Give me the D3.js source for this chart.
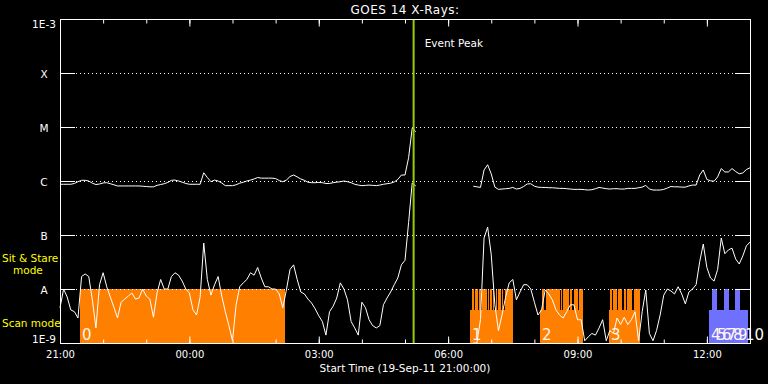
<!DOCTYPE html>
<html>
<head>
<meta charset="utf-8">
<script src="https://cdn.jsdelivr.net/npm/d3@7"></script>
<style>
  body { margin: 0; background: #000; }
  svg { display: block; background: #000; }
  text { font-family: "DejaVu Sans", sans-serif; fill: #fff; }
</style>
</head>
<body>
<svg id="chart" width="768" height="384"></svg>
<script>
// GOES 14 x-ray flux, 5 minute samples starting 19-Sep-11 21:00 UT
var startTime = Date.UTC(2011, 8, 19, 21, 0);
var endTime = Date.UTC(2011, 8, 20, 13, 0);
var stepMinutes = 5;

// 0.5-4 A channel, W/m^2 (null = no data)
var shortFlux = [
  4.5e-9, 1.0e-8, 7.1e-9, 4.1e-9, 3.8e-9, 2.9e-9, 1.7e-8, 1.9e-8, 1.7e-8, 6.3e-9,
  1.9e-9, 1.2e-8, 2.0e-8, 1.1e-8, 7.1e-9, 4.6e-9, 2.9e-9, 5.7e-9, 6.5e-9, 7.4e-9,
  8.4e-9, 6.5e-9, 6.8e-9, 1.0e-8, 7.4e-9, 6.5e-9, 3.0e-9, 8.4e-9, 1.5e-8, 1.0e-8,
  1.0e-8, 1.7e-8, 2.0e-8, 1.8e-8, 1.4e-8, 1.0e-8, 8.4e-9, 4.1e-9, 3.3e-9, 7.1e-9,
  7.1e-8, 1.5e-8, 7.7e-9, 1.2e-8, 1.7e-8, 7.4e-9, 3.8e-9, 2.1e-9, 1.1e-9, 5.1e-9,
  1.1e-8, 1.3e-8, 1.5e-8, 2.0e-8, 1.8e-8, 2.5e-8, 1.6e-8, 1.1e-8, 1.1e-8, 1.0e-8,
  1.0e-8, 8.1e-9, 4.5e-9, 9.6e-9, 2.3e-8, 2.8e-8, 1.5e-8, 8.8e-9, 8.1e-9, 6.5e-9,
  5.5e-9, 4.3e-9, 3.2e-9, 2.5e-9, 1.4e-9, 3.8e-9, 4.8e-9, 6.8e-9, 1.3e-8, 1.0e-8,
  6.3e-9, 2.5e-9, 1.9e-9, 1.4e-9, 5.7e-9, 4.5e-9, 2.7e-9, 2.1e-9, 1.9e-9, 2.1e-9,
  5.1e-9, 6.8e-9, 8.8e-9, 1.2e-8, 1.6e-8, 2.8e-8, 3.4e-8, 1.7e-7, 9.2e-7, 8.1e-7,
  null, null, null, null, null, null, null, null, null, null, null, null, null, null, null,
  1.0e-9, 1.0e-9, 2.7e-9, 8.8e-8, 1.4e-7, 4.3e-8, 5.1e-9, 1.7e-9, 3.3e-9, 7.1e-9,
  1.3e-8, 1.5e-8, 6.3e-9, 8.8e-9, 1.2e-8, 1.2e-8, 1.0e-8, 5.7e-9, 3.3e-9, 4.1e-9,
  9.6e-9, 8.1e-9, 6.3e-9, 4.1e-9, 3.3e-9, 2.9e-9, 3.8e-9, 5.1e-9, 5.1e-9, 2.7e-9,
  2.7e-9, 1.1e-9, 1.3e-9, 1.5e-9, 1.4e-9, 1.9e-9, 2.7e-9, 1.1e-9, 1.7e-9, 1.5e-9,
  2.9e-9, 2.2e-9, 3.0e-9, 2.2e-9, 2.7e-9, 3.8e-9, 1.1e-9, 3.8e-9, 9.6e-9, 1.5e-9,
  1.1e-9, 1.7e-9, 3.3e-9, 7.7e-9, 1.0e-8, 9.2e-9, 8.1e-9, 1.1e-8, 8.1e-9, 5.3e-9,
  8.8e-9, 1.0e-8, 1.2e-8, 3.2e-8, 6.8e-8, 2.5e-8, 1.6e-8, 1.4e-8, 2.3e-8, 8.8e-8,
  4.5e-8, 5.3e-8, 5.7e-8, 3.6e-8, 2.9e-8, 4.1e-8, 6.3e-8, 7.4e-8
];

// 1-8 A channel, W/m^2 (null = no data)
var longFlux = [
  8.7e-7, 8.7e-7, 8.7e-7, 8.7e-7, 9.0e-7, 9.7e-7, 1.03e-6, 1.03e-6, 1.0e-6, 9.1e-7,
  8.6e-7, 8.8e-7, 9.2e-7, 9.3e-7, 8.9e-7, 8.5e-7, 8.1e-7, 8.1e-7, 8.1e-7, 8.1e-7,
  8.1e-7, 8.1e-7, 8.1e-7, 8.0e-7, 7.9e-7, 7.8e-7, 7.8e-7, 8.3e-7, 8.6e-7, 8.9e-7,
  9.4e-7, 1.03e-6, 1.04e-6, 1.0e-6, 9.5e-7, 9.0e-7, 8.7e-7, 8.7e-7, 8.7e-7, 8.7e-7,
  1.42e-6, 1.16e-6, 9.7e-7, 1.04e-6, 1.0e-6, 9.2e-7, 8.2e-7, 8.2e-7, 8.2e-7, 8.5e-7,
  9.1e-7, 9.5e-7, 1.0e-6, 1.04e-6, 1.09e-6, 1.16e-6, 1.13e-6, 1.13e-6, 1.13e-6, 1.13e-6,
  1.11e-6, 1.02e-6, 9.7e-7, 1.04e-6, 1.21e-6, 1.29e-6, 1.19e-6, 1.09e-6, 1.03e-6, 9.5e-7,
  9.3e-7, 9.3e-7, 9.4e-7, 9.3e-7, 9.0e-7, 9.0e-7, 9.3e-7, 9.5e-7, 9.7e-7, 1.0e-6,
  9.7e-7, 9.3e-7, 8.7e-7, 8.4e-7, 8.2e-7, 8.3e-7, 8.4e-7, 8.3e-7, 8.2e-7, 8.4e-7,
  8.7e-7, 8.9e-7, 9.1e-7, 9.6e-7, 1.07e-6, 1.29e-6, 1.29e-6, 2.7e-6, 9.5e-6, 8.2e-6,
  null, null, null, null, null, null, null, null, null, null, null, null, null, null, null,
  8.0e-7, 7.8e-7, 7.6e-7, 1.6e-6, 2.0e-6, 1.35e-6, 7.7e-7, 7.0e-7, 7.1e-7, 7.2e-7,
  7.3e-7, 7.6e-7, 7.1e-7, 7.3e-7, 7.9e-7, 8.8e-7, 8.9e-7, 8.0e-7, 7.7e-7, 7.6e-7,
  7.6e-7, 7.5e-7, 7.5e-7, 7.4e-7, 7.3e-7, 7.3e-7, 7.2e-7, 7.1e-7, 7.0e-7, 7.0e-7,
  7.0e-7, 6.9e-7, 6.8e-7, 6.9e-7, 7.2e-7, 7.6e-7, 7.4e-7, 7.2e-7, 7.1e-7, 7.2e-7,
  7.2e-7, 7.1e-7, 7.1e-7, 7.3e-7, 7.3e-7, 7.3e-7, 7.5e-7, 7.7e-7, 8.3e-7, 7.1e-7,
  6.8e-7, 6.8e-7, 6.8e-7, 7.0e-7, 7.4e-7, 7.9e-7, 7.8e-7, 7.8e-7, 7.7e-7, 7.7e-7,
  8.1e-7, 8.4e-7, 8.4e-7, 1.29e-6, 1.6e-6, 1.07e-6, 1.01e-6, 9.9e-7, 1.19e-6, 1.7e-6,
  1.47e-6, 1.47e-6, 1.7e-6, 1.5e-6, 1.36e-6, 1.41e-6, 1.63e-6, 1.76e-6
];

// flux classes on the y axis
var levelValues = [1e-9, 1e-8, 1e-7, 1e-6, 1e-5, 1e-4, 1e-3];
var levelNames = ["1E-9", "A", "B", "C", "M", "X", "1E-3"];

// observing blocks, minutes after start; set 0 = orange, set 1 = blue
var blockIds = ["0", "1", "2", "3", "4", "5", "6", "7", "8", "9", "10"];
var blockStart = [27.8, 570.4, 667.8, 763.8, 903, 911.3, 918.3, 925.2, 933.6, 940.5, 950.2];
var blockEnd = [313, 630.3, 727.7, 807, 911.3, 918.3, 925.2, 933.6, 940.5, 950.2, 957.2];
var blockSet = [0, 0, 0, 0, 1, 1, 1, 1, 1, 1, 1];

// sit & stare windows inside the blocks, minutes after start
var stareWindows = [
  [27.8, 313],
  [573, 576], [577.5, 581.5], [583, 585.5], [587, 593.5], [595, 597], [598.5, 600.5],
  [602, 604.5], [606, 608.5], [610, 613], [614.5, 617], [618.5, 630.3],
  [670.5, 674], [675.5, 684], [685, 691], [692, 695], [696.5, 699], [700.5, 703.5],
  [704.5, 707.5], [709, 713], [714.5, 720], [721.5, 727.7],
  [765, 768.5], [770, 775.5], [777, 782.5], [784, 788], [789.5, 792.5], [793.5, 796.5], [798, 807],
  [907.7, 914.6], [924.2, 931.2], [939.1, 946.5]
];
var scanLevel = 4e-9;   // top of scan mode bars
var stareLevel = 1e-8;  // top of sit & stare bars

var eventPeak = Date.UTC(2011, 8, 20, 5, 12);

var margin = {left: 60, top: 19, right: 18, bottom: 41};
var width = 768, height = 384;

function atMinute(m) { return new Date(startTime + m * 60000); }

var x = d3.scaleUtc()
    .domain([new Date(startTime), new Date(endTime)])
    .range([margin.left, width - margin.right]);
var y = d3.scaleLog()
    .domain([1e-9, 1e-3])
    .range([height - margin.bottom, margin.top]);

var setColor = d3.scaleOrdinal().domain([0, 1]).range(["#ff8000", "#7070ff"]);

var svg = d3.select("#chart");

// mode bars
var blocks = blockIds.map(function(id, i) {
  return {id: id, s: blockStart[i], e: blockEnd[i], set: blockSet[i]};
});
function setOf(m) {
  for (var i = 0; i < blocks.length; i++) {
    if (m >= blocks[i].s - 0.01 && m <= blocks[i].e + 0.01) return blocks[i].set;
  }
  return 0;
}

svg.append("g").selectAll("rect.scan")
  .data(blocks)
  .enter().append("rect")
  .attr("class", "scan")
  .attr("shape-rendering", "crispEdges")
  .attr("x", function(d) { return x(atMinute(d.s)); })
  .attr("width", function(d) { return x(atMinute(d.e)) - x(atMinute(d.s)); })
  .attr("y", y(scanLevel))
  .attr("height", y(1e-9) - y(scanLevel))
  .attr("fill", function(d) { return setColor(d.set); });

svg.append("g").selectAll("rect.stare")
  .data(stareWindows)
  .enter().append("rect")
  .attr("class", "stare")
  .attr("shape-rendering", "crispEdges")
  .attr("x", function(d) { return x(atMinute(d[0])); })
  .attr("width", function(d) { return x(atMinute(d[1])) - x(atMinute(d[0])); })
  .attr("y", y(stareLevel))
  .attr("height", y(1e-9) - y(stareLevel))
  .attr("fill", function(d) { return setColor(setOf(d[0])); });

// dotted class lines with solid stubs at both ends
var levels = levelValues.slice(1, levelValues.length - 1);
var grid = svg.append("g");
levels.forEach(function(v) {
  var yy = Math.round(y(v)) + 0.5;
  grid.append("line")
    .attr("x1", x.range()[0]).attr("x2", x.range()[1])
    .attr("y1", yy).attr("y2", yy)
    .attr("stroke", "#fff").attr("stroke-dasharray", "1,3");
  grid.append("line")
    .attr("x1", x.range()[0]).attr("x2", x.range()[0] + 15)
    .attr("y1", yy).attr("y2", yy)
    .attr("stroke", "#fff");
  grid.append("line")
    .attr("x1", x.range()[1] - 15).attr("x2", x.range()[1])
    .attr("y1", yy).attr("y2", yy)
    .attr("stroke", "#fff");
});

// flux curves
function toPoints(arr) {
  return arr.map(function(v, i) {
    return {t: new Date(startTime + i * stepMinutes * 60000), v: v};
  });
}
var fluxLine = d3.line()
  .defined(function(d) { return d.v != null; })
  .x(function(d) { return x(d.t); })
  .y(function(d) { return y(d.v); });

svg.append("path")
  .attr("d", fluxLine(toPoints(longFlux)))
  .attr("fill", "none").attr("stroke", "#fff").attr("stroke-width", 1);
svg.append("path")
  .attr("d", fluxLine(toPoints(shortFlux)))
  .attr("fill", "none").attr("stroke", "#fff").attr("stroke-width", 1);

// event peak marker
svg.append("line")
  .attr("x1", x(eventPeak)).attr("x2", x(eventPeak))
  .attr("y1", y.range()[1]).attr("y2", y.range()[0])
  .attr("stroke", "#99cc00").attr("stroke-width", 2);
svg.append("text")
  .attr("x", x(eventPeak) + 11).attr("y", 47)
  .style("font-size", "10.5px")
  .text("Event Peak");

// block numbers
svg.append("g").selectAll("text")
  .data(blocks)
  .enter().append("text")
  .attr("x", function(d) { return x(atMinute(d.s)) + 2; })
  .attr("y", y(1e-9) - 3)
  .style("font-size", "15px")
  .style("fill", "#fff6ee")
  .text(function(d) { return d.id; });

// frame
svg.append("rect")
  .attr("x", x.range()[0] + 0.5).attr("y", y.range()[1] + 0.5)
  .attr("width", x.range()[1] - x.range()[0])
  .attr("height", y.range()[0] - y.range()[1])
  .attr("fill", "none").attr("stroke", "#fff");

// time axes: hourly minor ticks, 3-hourly major ticks
var bottomY = y.range()[0] + 0.5;
var topY = y.range()[1] + 0.5;

svg.append("g")
  .attr("transform", "translate(0," + bottomY + ")")
  .call(d3.axisBottom(x).ticks(d3.utcHour.every(1)).tickSize(-4).tickFormat(""));
svg.append("g")
  .attr("class", "xmajor")
  .attr("transform", "translate(0," + bottomY + ")")
  .call(d3.axisBottom(x).ticks(d3.utcHour.every(3)).tickSize(-7).tickPadding(7)
    .tickFormat(d3.utcFormat("%H:%M")));
svg.append("g")
  .attr("transform", "translate(0," + topY + ")")
  .call(d3.axisTop(x).ticks(d3.utcHour.every(1)).tickSize(-4).tickFormat(""));
svg.append("g")
  .attr("transform", "translate(0," + topY + ")")
  .call(d3.axisTop(x).ticks(d3.utcHour.every(3)).tickSize(-7).tickFormat(""));

svg.selectAll(".domain").remove();
svg.selectAll(".tick line").attr("stroke", "#fff");
svg.selectAll(".xmajor text")
  .attr("fill", "#fff")
  .style("font-size", "10px")
  .style("font-family", "DejaVu Sans, sans-serif");

// flux class labels
var yAxis = svg.append("g")
  .attr("transform", "translate(" + x.range()[0] + ",0)")
  .call(d3.axisLeft(y).tickValues(levelValues).tickSize(0)
    .tickFormat(function(d, i) { return levelNames[i]; }));
yAxis.select(".domain").remove();
yAxis.selectAll("text")
  .attr("x", -16)
  .attr("text-anchor", "middle")
  .attr("fill", "#fff")
  .attr("dy", function(d) {
    if (d === 1e-3) return "0.85em";
    if (d === 1e-9) return "-0.05em";
    return "0.4em";
  })
  .style("font-size", "10.5px")
  .style("font-family", "DejaVu Sans, sans-serif");

// titles
svg.append("text")
  .attr("x", (x.range()[0] + x.range()[1]) / 2).attr("y", 14)
  .attr("text-anchor", "middle")
  .style("font-size", "12px").style("letter-spacing", "0.5px")
  .text("GOES 14 X-Rays:");
svg.append("text")
  .attr("x", (x.range()[0] + x.range()[1]) / 2).attr("y", 372)
  .attr("text-anchor", "middle")
  .style("font-size", "10.5px")
  .text("Start Time (19-Sep-11 21:00:00)");

// mode legend on the left
var modeText = svg.append("g").style("font-size", "10.5px");
modeText.append("text").attr("x", 2).attr("y", 262).style("fill", "#ffff00").text("Sit & Stare");
modeText.append("text").attr("x", 13).attr("y", 274).style("fill", "#ffff00").text("mode");
modeText.append("text").attr("x", 2).attr("y", 327).style("fill", "#ffff00").text("Scan mode");
</script>
</body>
</html>
